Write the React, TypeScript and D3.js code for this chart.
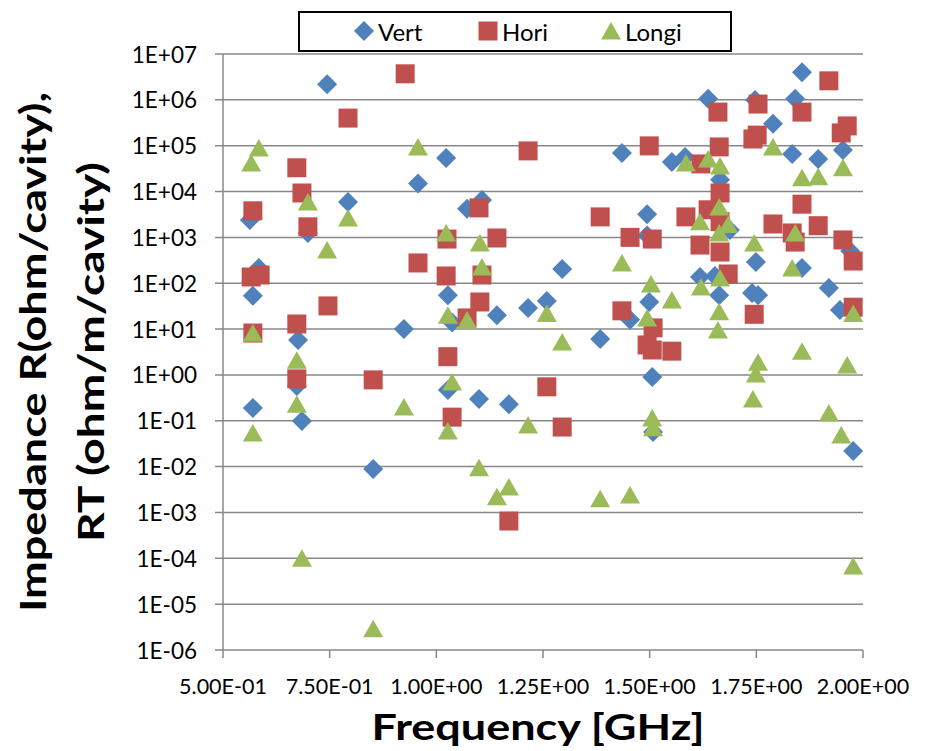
import React from "react";
import * as d3 from "d3";

// Frequency [GHz] and impedance
const vertFreq = [0.563, 0.699, 0.744, 0.793, 1.023, 0.957, 1.072, 1.107, 0.584, 0.57, 0.676, 0.924, 1.027, 1.037, 1.142, 1.215, 1.857, 1.637, 1.747, 1.841, 1.789, 1.953, 1.435, 1.552, 1.583, 1.834, 1.895, 1.665, 1.494, 1.688, 1.494, 1.97, 1.295, 1.749, 1.857, 1.618, 1.653, 1.499, 1.663, 1.74, 1.754, 1.92, 1.259, 1.454, 1.946, 1.384, 0.673, 0.685, 0.57, 0.852, 1.027, 1.1, 1.17, 1.506, 1.508, 1.977];
const vertR = [2.4e3, 1.25e3, 2.2e6, 5.9e3, 5.4e4, 1.5e4, 4.2e3, 6.5e3, 215, 53, 5.8, 10, 55, 14, 20, 29, 4.0e6, 1.05e6, 9.9e5, 1.05e6, 3.0e5, 8.1e4, 6.9e4, 4.4e4, 5.7e4, 6.6e4, 5.1e4, 1.8e4, 3.2e3, 1.45e3, 1.1e3, 505, 205, 290, 215, 137, 144, 39, 55, 61, 55, 79, 41, 16, 26, 6.1, 0.57, 0.099, 0.19, 0.0089, 0.47, 0.3, 0.23, 0.9, 0.057, 0.022];

const horiFreq = [0.57, 0.673, 0.685, 0.699, 0.793, 0.927, 1.1, 1.025, 1.142, 0.957, 1.023, 1.107, 0.566, 0.587, 0.746, 0.673, 0.57, 1.102, 1.072, 1.215, 1.92, 1.66, 1.754, 1.857, 1.742, 1.752, 1.949, 1.963, 1.499, 1.62, 1.663, 1.665, 1.637, 1.857, 1.384, 1.585, 1.665, 1.789, 1.834, 1.895, 1.454, 1.506, 1.618, 1.665, 1.841, 1.953, 1.977, 1.684, 1.435, 1.508, 1.745, 1.977, 1.494, 1.506, 1.552, 0.673, 0.852, 1.027, 1.037, 1.17, 1.259, 1.295];
const horiR = [3.8e3, 3.3e4, 9.3e3, 1.7e3, 4.0e5, 3.7e6, 4.4e3, 920, 970, 277, 144, 151, 137, 151, 32, 12.9, 8.2, 39, 17.5, 7.7e4, 2.6e6, 5.4e5, 8.1e5, 5.4e5, 1.4e5, 1.7e5, 1.9e5, 2.7e5, 9.9e4, 4.0e4, 9.4e4, 9.3e3, 4.0e3, 5.3e3, 2.8e3, 2.8e3, 2.2e3, 1.96e3, 1.25e3, 1.8e3, 1.0e3, 920, 680, 480, 790, 880, 305, 159, 25, 10.6, 21, 30, 4.5, 3.5, 3.3, 0.82, 0.78, 2.5, 0.12, 6.5e-4, 0.55, 0.073];

const longiFreq = [0.566, 0.584, 0.699, 0.793, 0.744, 0.957, 1.023, 1.102, 1.107, 0.57, 1.027, 1.072, 1.585, 1.637, 1.665, 1.789, 1.857, 1.895, 1.953, 1.663, 1.618, 1.684, 1.841, 1.745, 1.663, 1.435, 1.834, 1.665, 1.62, 1.503, 1.552, 1.259, 1.494, 1.663, 1.977, 1.66, 1.295, 1.857, 0.673, 0.673, 0.685, 0.57, 0.852, 0.924, 1.037, 1.027, 1.1, 1.142, 1.17, 1.215, 1.506, 1.508, 1.754, 1.749, 1.742, 1.963, 1.92, 1.949, 1.384, 1.454, 1.977];
const longiR = [4.2e4, 8.9e4, 5.9e3, 2.65e3, 530, 9.4e4, 1.25e3, 755, 226, 8.2, 20, 15.8, 4.2e4, 5.1e4, 3.6e4, 9.4e4, 2.0e4, 2.1e4, 3.3e4, 4.6e3, 2.2e3, 1.9e3, 1.25e3, 755, 1.25e3, 277, 215, 130, 83, 96, 43, 22, 17.5, 24, 22, 9.6, 5.2, 3.3, 2.1, 0.23, 1.0e-4, 0.054, 2.9e-6, 0.2, 0.7, 0.06, 0.0094, 0.0022, 0.0036, 0.081, 0.115, 0.07, 1.9, 1.05, 0.3, 1.65, 0.148, 0.049, 0.002, 0.0024, 6.8e-5];

const xTicks = [0.5, 0.75, 1.0, 1.25, 1.5, 1.75, 2.0];
const xTickLabels = ["5.00E-01", "7.50E-01", "1.00E+00", "1.25E+00", "1.50E+00", "1.75E+00", "2.00E+00"];
const yTicks = [1e7, 1e6, 1e5, 1e4, 1e3, 1e2, 1e1, 1e0, 1e-1, 1e-2, 1e-3, 1e-4, 1e-5, 1e-6];
const yTickLabels = ["1E+07", "1E+06", "1E+05", "1E+04", "1E+03", "1E+02", "1E+01", "1E+00", "1E-01", "1E-02", "1E-03", "1E-04", "1E-05", "1E-06"];

const seriesNames = ["Vert", "Hori", "Longi"];
const colors = ["#4F81BD", "#C0504D", "#9BBB59"];

const FONT = "Lato, 'Open Sans', sans-serif";
const GRID = "#888888";

const diamond = "M0,-10L10,0L0,10L-10,0Z";
const square = "M-9.5,-9.5H9.5V9.5H-9.5Z";
const triangle = "M0,-9L10,8.5L-10,8.5Z";
const shapes = [diamond, square, triangle];

export default function App() {
  const width = 928;
  const height = 751;
  const MARGIN = { top: 54, right: 65, bottom: 101, left: 223 };
  const boundsWidth = width - MARGIN.left - MARGIN.right;
  const boundsHeight = height - MARGIN.top - MARGIN.bottom;

  const xScale = d3.scaleLinear().domain([0.5, 2.0]).range([0, boundsWidth]);
  const yScale = d3.scaleLog().domain([1e-6, 1e7]).range([boundsHeight, 0]);

  const series = [
    { f: vertFreq, r: vertR },
    { f: horiFreq, r: horiR },
    { f: longiFreq, r: longiR },
  ];

  return (
    <svg
      width={width}
      height={height}
      style={{ position: "absolute", left: 0, top: 0, background: "#fff" }}
    >
      <g transform={`translate(${MARGIN.left},${MARGIN.top})`}>
        {yTicks.map((t, i) => (
          <g key={i}>
            <line x1={-8} x2={boundsWidth} y1={yScale(t)} y2={yScale(t)} stroke={GRID} strokeWidth={1.5} />
            <text
              x={-26}
              y={yScale(t)}
              textAnchor="end"
              dominantBaseline="central"
              fontFamily={FONT}
              fontSize={22.5}
            >
              {yTickLabels[i]}
            </text>
          </g>
        ))}
        <line x1={0} x2={0} y1={0} y2={boundsHeight} stroke={GRID} strokeWidth={1.5} />
        {xTicks.map((t, i) => (
          <g key={i}>
            <line x1={xScale(t)} x2={xScale(t)} y1={boundsHeight} y2={boundsHeight + 8} stroke={GRID} strokeWidth={1.5} />
            <text
              x={xScale(t)}
              y={boundsHeight + 36}
              textAnchor="middle"
              dominantBaseline="central"
              fontFamily={FONT}
              fontSize={21.5}
            >
              {xTickLabels[i]}
            </text>
          </g>
        ))}
        {series.map((s, si) =>
          s.f.map((f, i) => (
            <path
              key={`${si}-${i}`}
              d={shapes[si]}
              transform={`translate(${xScale(f)},${yScale(s.r[i])})`}
              fill={colors[si]}
            />
          ))
        )}
      </g>

      {/* legend */}
      <rect x={299} y={12} width={432} height={39} fill="#fff" stroke="#000" strokeWidth={2} />
      {seriesNames.map((name, i) => {
        const mx = [364, 488, 611][i];
        return (
          <g key={name}>
            <path d={shapes[i]} transform={`translate(${mx},31)`} fill={colors[i]} />
            <text x={mx + 14} y={31} dominantBaseline="central" fontFamily={FONT} fontSize={24}>
              {name}
            </text>
          </g>
        );
      })}

      {/* axis titles */}
      <text
        x={MARGIN.left + boundsWidth / 2 - 5}
        y={740}
        textAnchor="middle"
        fontFamily={FONT}
        fontWeight="bold"
        fontSize={37}
        textLength={333}
        lengthAdjust="spacingAndGlyphs"
      >
        Frequency [GHz]
      </text>
      <g transform="translate(0,352) rotate(-90)">
        <text
          x={0}
          y={46}
          textAnchor="middle"
          fontFamily={FONT}
          fontWeight="bold"
          fontSize={37}
          textLength={520}
          lengthAdjust="spacingAndGlyphs"
        >
          Impedance R(ohm/cavity),
        </text>
        <text
          x={0}
          y={104}
          textAnchor="middle"
          fontFamily={FONT}
          fontWeight="bold"
          fontSize={37}
          textLength={380}
          lengthAdjust="spacingAndGlyphs"
        >
          RT (ohm/m/cavity)
        </text>
      </g>
    </svg>
  );
}
